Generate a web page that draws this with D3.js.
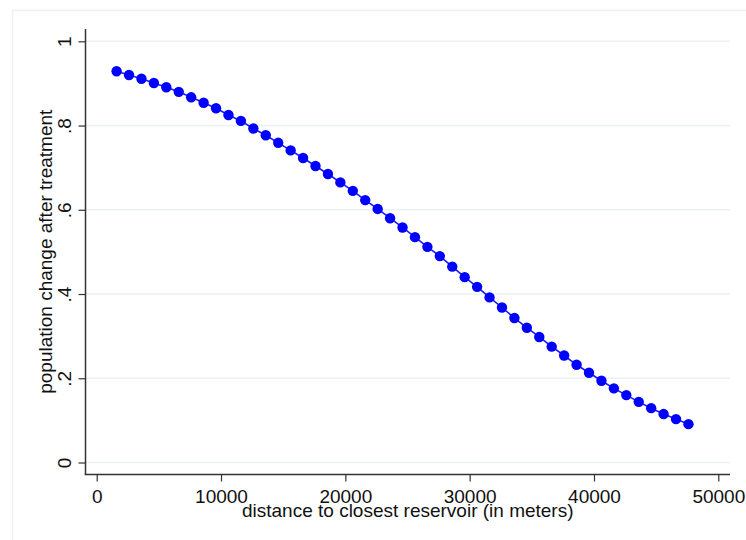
<!DOCTYPE html>
<html>
<head>
<meta charset="utf-8">
<script src="https://cdn.jsdelivr.net/npm/d3@7"></script>
<style>
  html, body { margin: 0; padding: 0; background: #ffffff; }
  svg { display: block; }
  text { font-family: "Liberation Sans", Arial, sans-serif; fill: #111; }
</style>
</head>
<body>
<svg id="chart" width="746" height="540"></svg>
<script>
// ---- data ----
const distance = [1600, 2600, 3600, 4600, 5600, 6600, 7600, 8600, 9600, 10600,
  11600, 12600, 13600, 14600, 15600, 16600, 17600, 18600, 19600, 20600,
  21600, 22600, 23600, 24600, 25600, 26600, 27600, 28600, 29600, 30600,
  31600, 32600, 33600, 34600, 35600, 36600, 37600, 38600, 39600, 40600,
  41600, 42600, 43600, 44600, 45600, 46600, 47600];
const popChange = [0.929, 0.920, 0.911, 0.901, 0.891, 0.880, 0.867, 0.854, 0.841, 0.825,
  0.811, 0.793, 0.777, 0.759, 0.741, 0.723, 0.704, 0.685, 0.665, 0.645,
  0.623, 0.602, 0.580, 0.558, 0.535, 0.512, 0.490, 0.465, 0.440, 0.417,
  0.392, 0.368, 0.343, 0.320, 0.298, 0.275, 0.254, 0.232, 0.213, 0.194,
  0.176, 0.160, 0.144, 0.129, 0.115, 0.103, 0.091];
const xTicks = [0, 10000, 20000, 30000, 40000, 50000];
const xTickLabels = ["0", "10000", "20000", "30000", "40000", "50000"];
const yTicks = [0, 0.2, 0.4, 0.6, 0.8, 1];
const yTickLabels = ["0", ".2", ".4", ".6", ".8", "1"];
const xTitle = "distance to closest reservoir (in meters)";
const yTitle = "population change after treatment";

const points = distance.map((d, i) => ({ x: d, y: popChange[i] }));

// ---- layout ----
const svg = d3.select("#chart");
const plotLeft = 85.5, plotRight = 730, plotTop = 29, plotBottom = 474.5;

const x = d3.scaleLinear().domain([0, 50000]).range([96.7, 718.3]);
const y = d3.scaleLinear().domain([0, 1]).range([462.5, 41.3]);

// outer frame (graph region border)
svg.append("rect")
  .attr("x", 12.5).attr("y", 10.5)
  .attr("width", 760).attr("height", 560)
  .attr("fill", "#ffffff")
  .attr("stroke", "#eaf2f3").attr("stroke-width", 1.5);

// gridlines
svg.append("g").selectAll("line")
  .data(yTicks)
  .join("line")
  .attr("x1", plotLeft).attr("x2", plotRight)
  .attr("y1", d => y(d)).attr("y2", d => y(d))
  .attr("stroke", "#eaf2f3").attr("stroke-width", 1.5);

// y axis
const yAxis = d3.axisLeft(y)
  .tickValues(yTicks)
  .tickFormat((d, i) => yTickLabels[i])
  .tickSize(7).tickSizeOuter(0);
const gy = svg.append("g").attr("transform", `translate(${plotLeft},0)`).call(yAxis);
gy.select(".domain").remove();
gy.selectAll(".tick line").attr("stroke", "#333").attr("stroke-width", 1.2);
gy.selectAll(".tick text")
  .attr("x", 0).attr("y", 0).attr("dy", 0)
  .attr("transform", "translate(-15,0) rotate(-90)")
  .attr("text-anchor", "middle")
  .style("font-family", "'Liberation Sans', Arial, sans-serif")
  .style("font-size", "19px").attr("fill", "#111");
svg.append("line")
  .attr("x1", plotLeft).attr("x2", plotLeft)
  .attr("y1", plotTop).attr("y2", plotBottom)
  .attr("stroke", "#333").attr("stroke-width", 1.5);

// x axis
const xAxis = d3.axisBottom(x)
  .tickValues(xTicks)
  .tickFormat((d, i) => xTickLabels[i])
  .tickSize(7).tickSizeOuter(0);
const gx = svg.append("g").attr("transform", `translate(0,${plotBottom})`).call(xAxis);
gx.select(".domain").remove();
gx.selectAll(".tick line").attr("stroke", "#333").attr("stroke-width", 1.2);
gx.selectAll(".tick text")
  .attr("y", 28.5).attr("dy", 0)
  .style("font-family", "'Liberation Sans', Arial, sans-serif")
  .style("font-size", "19px").attr("fill", "#111");
svg.append("line")
  .attr("x1", plotLeft - 0.75).attr("x2", plotRight)
  .attr("y1", plotBottom).attr("y2", plotBottom)
  .attr("stroke", "#333").attr("stroke-width", 1.5);

// axis titles
svg.append("text")
  .attr("x", (plotLeft + plotRight) / 2).attr("y", 517)
  .attr("text-anchor", "middle")
  .style("font-size", "19px")
  .text(xTitle);
svg.append("text")
  .attr("transform", `translate(52,${(plotTop + plotBottom) / 2}) rotate(-90)`)
  .attr("text-anchor", "middle")
  .style("font-size", "19px")
  .text(yTitle);

// connecting line
svg.append("path")
  .datum(points)
  .attr("fill", "none")
  .attr("stroke", "#1a1aff").attr("stroke-width", 1.6)
  .attr("d", d3.line().x(d => x(d.x)).y(d => y(d.y)));

// markers
svg.append("g").selectAll("circle")
  .data(points)
  .join("circle")
  .attr("cx", d => x(d.x)).attr("cy", d => y(d.y))
  .attr("r", 5.2)
  .attr("fill", "#0000ff");
</script>
</body>
</html>
